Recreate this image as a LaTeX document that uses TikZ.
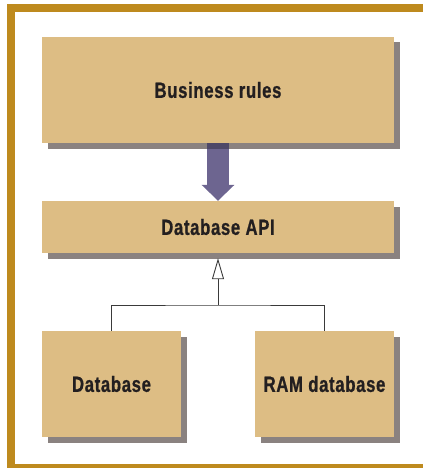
\documentclass[tikz,border=0pt]{standalone}
\usepackage{fontspec}
\setmainfont{Liberation Sans}[FakeStretch=0.76,LetterSpace=3,BoldFeatures={FakeBold=0.8}]
\usetikzlibrary{arrows.meta,shadows}
\definecolor{framec}{HTML}{BE8A1E}
\definecolor{boxc}{HTML}{DDBD84}
\definecolor{shadowc}{HTML}{8A8280}
\definecolor{arrowc}{HTML}{6D6590}
\definecolor{arrowdark}{HTML}{4E4868}
\definecolor{textc}{HTML}{231F20}
\definecolor{linec}{HTML}{3A3A3A}
\tikzset{
  box/.style={rectangle, fill=boxc, draw=none, inner sep=0pt,
    text=textc, font=\fontsize{22}{25}\selectfont\bfseries,
    drop shadow={shadow xshift=6pt, shadow yshift=-5.5pt, fill=shadowc, opacity=1}},
  conn/.style={draw=linec, line width=0.9pt},
}
\begin{document}
\begin{tikzpicture}[x=1pt,y=-1pt]
\useasboundingbox (0,0) rectangle (423,468);
% frame
\fill[framec] (7,4) rectangle (423,12);
\fill[framec] (7,4) rectangle (15,468);
\fill[framec] (7,464) rectangle (423,468);
% boxes
\node[box, minimum width=352pt, minimum height=106pt] (br) at (218,90) {Business rules};
\node[box, minimum width=352pt, minimum height=52pt] (api) at (218,227) {Database API};
\node[box, minimum width=139pt, minimum height=106pt] (db) at (111.5,384) {Database};
\node[box, minimum width=139pt, minimum height=106pt] (ram) at (324.5,384) {RAM database};
% fat arrow
\draw[arrowc, line width=22pt, -{Triangle[width=32pt,length=16pt]}] (br.south) -- (api.north);
\fill[arrowdark] ([xshift=-11pt]br.south) rectangle ([xshift=11pt,yshift=-6pt]br.south);
% inheritance
\coordinate (j) at (218,305);
\draw[conn] (db.north) |- (j) -| (ram.north);
\draw[conn, -{Triangle[open,width=12pt,length=21pt,fill=white]}] (j) -- ([yshift=-5pt]api.south);
\end{tikzpicture}
\end{document}
